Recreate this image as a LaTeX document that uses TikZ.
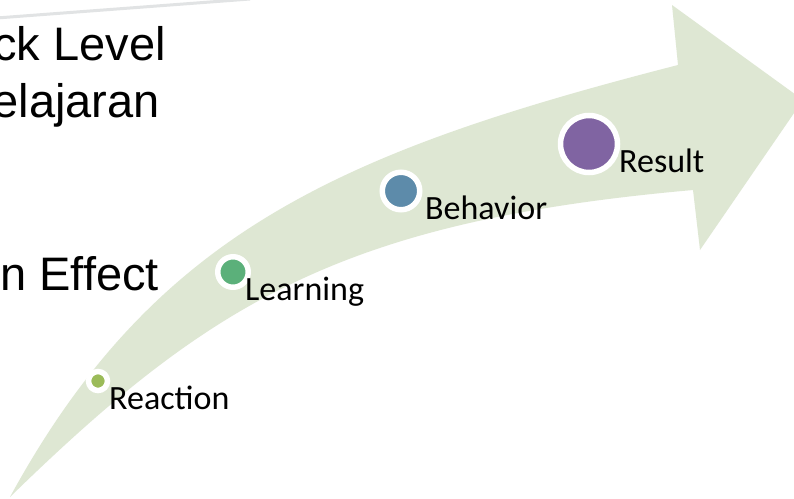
\documentclass[tikz,border=0pt]{standalone}
\usepackage{fontspec}
\setmainfont{Liberation Sans}
\newfontfamily\labfont{Carlito}
\definecolor{arrowfill}{RGB}{222,231,211}
\definecolor{gline}{RGB}{225,227,228}
\definecolor{creaction}{RGB}{155,187,89}
\definecolor{clearning}{RGB}{91,176,122}
\definecolor{cbehavior}{RGB}{93,139,170}
\definecolor{cresult}{RGB}{128,100,162}
\begin{document}
\begin{tikzpicture}[x=1pt,y=-1pt,
  dot/.style={circle, draw=white, line width=5.5pt, inner sep=0pt},
  lab/.style={anchor=base west, inner sep=0pt, font=\labfont\fontsize{34}{41}\selectfont},
  big/.style={anchor=base east, inner sep=0pt, font=\fontsize{47}{56}\selectfont}]
\useasboundingbox (0,0) rectangle (794,498);
\clip (0,0) rectangle (794,498);
\fill[white] (0,0) rectangle (794,498);
\draw[line width=3pt, color=gline] (-10,18.5) -- (250,-1);
\fill[arrowfill] (10,497) .. controls (154,233) and (339,152) .. (678,65)
  -- (672,5) -- (803,100) -- (700,250) -- (693,190)
  .. controls (344,221) and (211,301) .. (10,497) -- cycle;
\node[big] (t1) at (166,60) {ck Level};
\node[big] (t2) at (160,117) {elajaran};
\node[big] (t3) at (159,290) {n Effect};
\node[dot, fill=creaction, minimum size=19pt] (reaction) at (98,381) {};
\node[dot, fill=clearning, minimum size=30.5pt] (learning) at (233,272) {};
\node[dot, fill=cbehavior, minimum size=37.5pt] (behavior) at (401,191) {};
\node[dot, fill=cresult, minimum size=57pt] (result) at (589,144) {};
\node[lab] (lreaction) at (109,409) {Reaction};
\node[lab] (llearning) at (245,300) {Learning};
\node[lab] (lbehavior) at (425,219) {Behavior};
\node[lab] (lresult) at (619,172) {Result};
\end{tikzpicture}
\end{document}
